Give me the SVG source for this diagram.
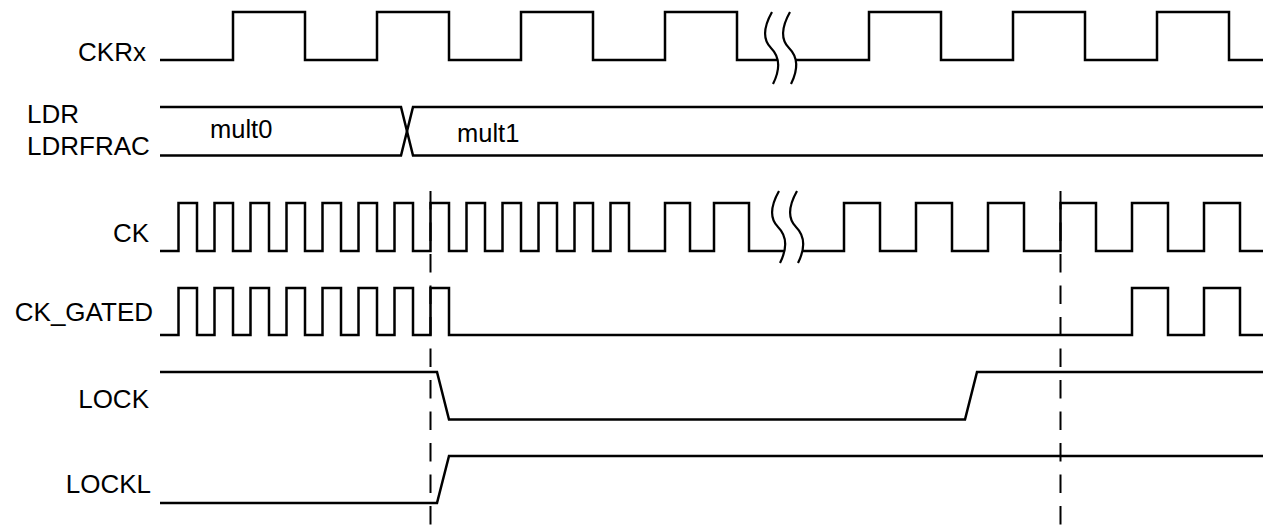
<svg xmlns="http://www.w3.org/2000/svg" width="1271" height="527" viewBox="0 0 1271 527">
<style>
.sig{fill:none;stroke:#000;stroke-width:2.5;stroke-linejoin:miter}
.brk{fill:none;stroke:#000;stroke-width:2.2}
.lbl{font-family:"Liberation Sans",Arial,sans-serif;font-size:26px;fill:#000}
.val{font-family:"Liberation Sans",Arial,sans-serif;font-size:25.5px;fill:#000}
.dash{fill:none;stroke:#000;stroke-width:2;stroke-dasharray:18.5 13}
</style>
<rect width="1271" height="527" fill="#fff"/>
<g id="CKRx">
<text class="lbl" x="146" y="60.5" text-anchor="end">CKRx</text>
<path class="sig" d="M160,60 H233 V12 H305 V60 H377 V12 H449 V60 H521 V12 H593 V60 H665 V12 H737 V60 H778"/>
<path class="sig" d="M796,60 H869 V12 H941 V60 H1013 V12 H1085 V60 H1157 V12 H1229 V60 H1263"/>
<path class="brk" d="M772,12 C763,28 763,40 771,48 C779,56 781,68 773,84"/>
<path class="brk" d="M790,12 C781,28 781,40 789,48 C797,56 799,68 791,84"/>
</g>
<g id="LDR">
<text class="lbl" x="27" y="123">LDR</text>
<text class="lbl" x="27" y="155">LDRFRAC</text>
<path class="sig" d="M160,107 H401 L413,155.5 H1263"/>
<path class="sig" d="M160,155.5 H401 L413,107 H1263"/>
<text class="val" x="210" y="138">mult0</text>
<text class="val" x="457" y="142">mult1</text>
</g>
<g id="CK">
<text class="lbl" x="149" y="242" text-anchor="end">CK</text>
<path class="sig" d="M160,251 H178.5 V203 H197 V251 H214.5 V203 H233 V251 H250.5 V203 H269 V251 H286.5 V203 H305 V251 H322.5 V203 H341 V251 H358.5 V203 H377 V251 H394.5 V203 H413 V251 H430.5 V203 H449 V251 H466.5 V203 H485 V251 H502.5 V203 H521 V251 H538.5 V203 H557 V251 H574.5 V203 H593 V251 H610.5 V203 H629 V251 H665 V203 H690 V251 H714 V203 H749 V251 H784"/>
<path class="sig" d="M802,251 H844 V203 H880 V251 H916 V203 H952 V251 H988 V203 H1024 V251 H1060.5 V203 H1096 V251 H1132 V203 H1168 V251 H1204 V203 H1240 V251 H1263"/>
<path class="brk" d="M779,191 C770,207 770,219 778,227 C786,235 788,247 780,263"/>
<path class="brk" d="M797,191 C788,207 788,219 796,227 C804,235 806,247 798,263"/>
</g>
<g id="CK_GATED">
<text class="lbl" x="153" y="321" text-anchor="end">CK_GATED</text>
<path class="sig" d="M160,335 H178.5 V288 H197 V335 H214.5 V288 H233 V335 H250.5 V288 H269 V335 H286.5 V288 H305 V335 H322.5 V288 H341 V335 H358.5 V288 H377 V335 H394.5 V288 H413 V335 H430.5 V288 H449 V335 H1132 V288 H1168 V335 H1204 V288 H1240 V335 H1263"/>
</g>
<g id="LOCK">
<text class="lbl" x="149" y="408" text-anchor="end">LOCK</text>
<path class="sig" d="M160,372 H437 L449,419.5 H965 L977,372 H1263"/>
</g>
<g id="LOCKL">
<text class="lbl" x="151" y="493" text-anchor="end">LOCKL</text>
<path class="sig" d="M160,503 H437 L449,456 H1263"/>
</g>
<g id="connectors">
<line class="dash" x1="430.5" y1="191" x2="430.5" y2="527"/>
<line class="dash" x1="1060.5" y1="191" x2="1060.5" y2="527"/>
</g>
</svg>
